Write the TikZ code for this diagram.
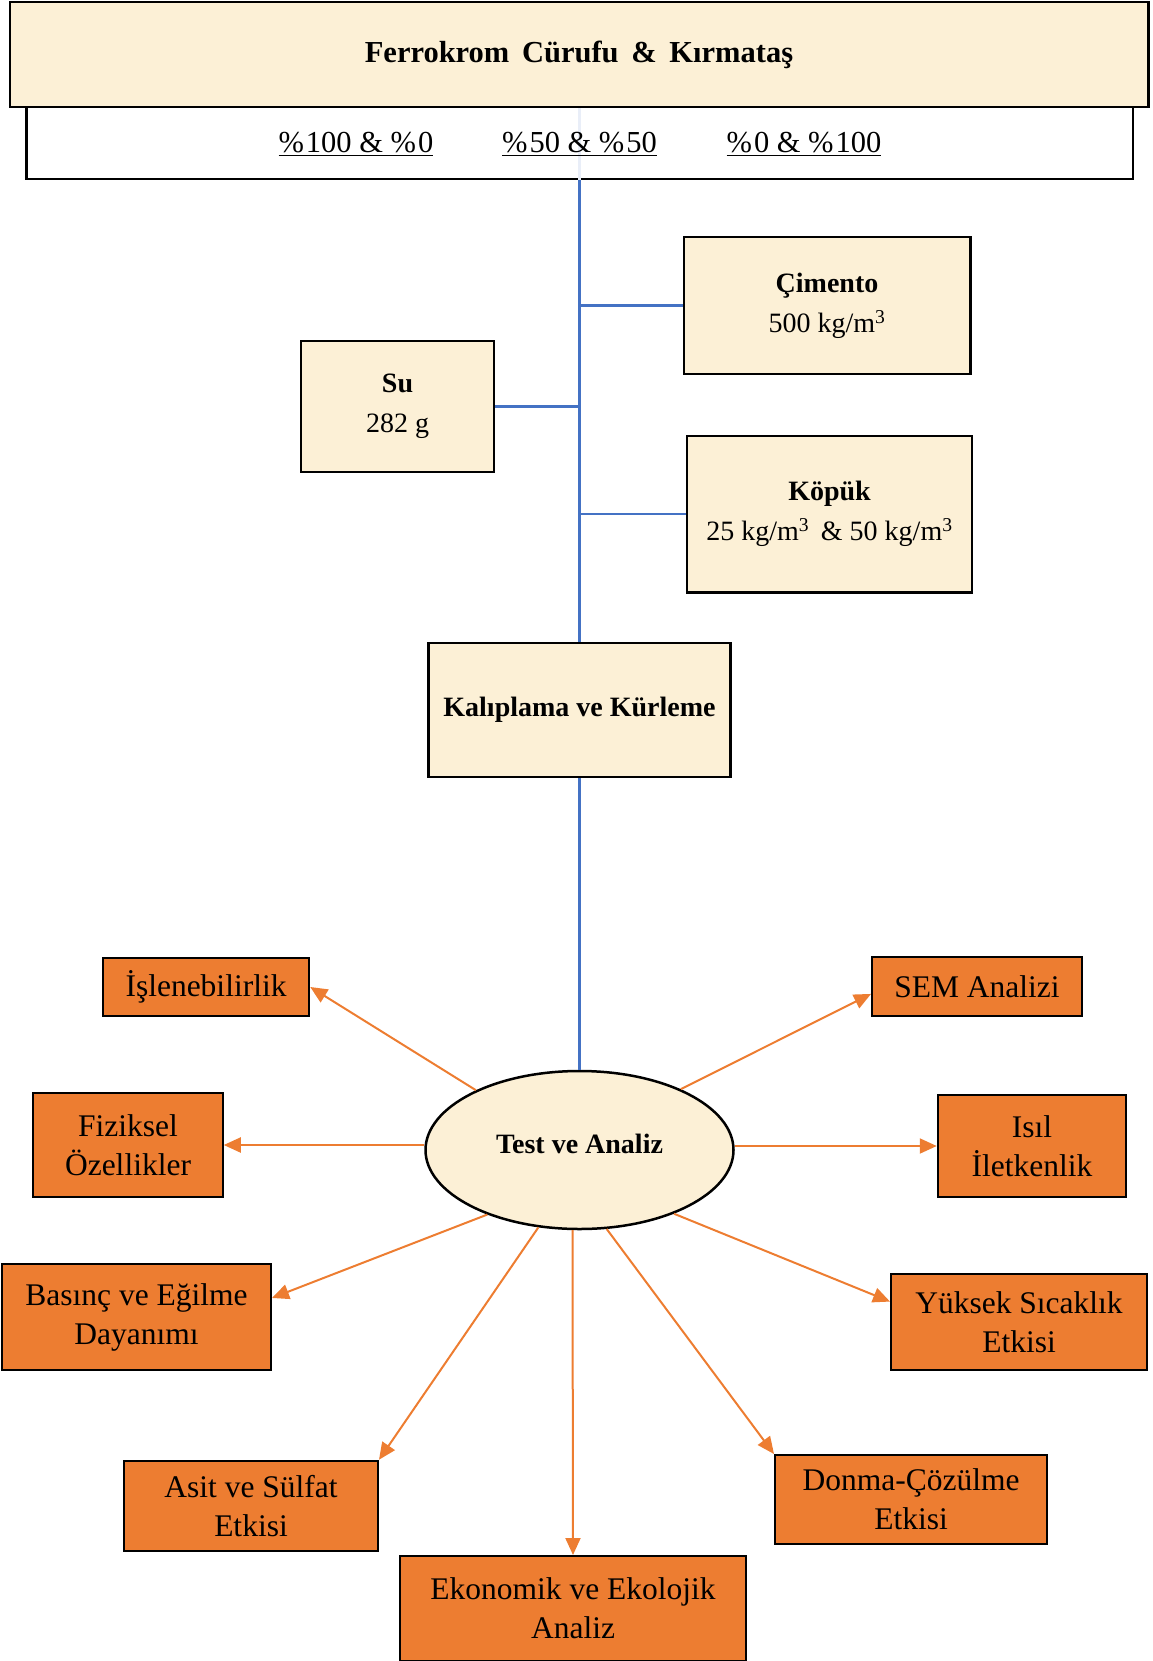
\documentclass[tikz,border=0pt]{standalone}
\usepackage{fontspec}
\setmainfont{Liberation Serif}
\usetikzlibrary{shapes.geometric,arrows.meta}
\definecolor{cream}{RGB}{252,240,214}
\definecolor{orng}{RGB}{237,125,49}
\definecolor{lineblue}{RGB}{68,114,196}
\begin{document}
\begin{tikzpicture}[x=1pt,y=-1pt,
    basebox/.style={draw,line width=2.5pt,fill=cream,align=center,inner sep=0pt,
      font=\fontsize{28}{40}\selectfont},
    testbox/.style={draw,line width=2pt,fill=orng,align=center,inner sep=0pt,
      font=\fontsize{31.5}{39}\selectfont},
    pcttext/.style={font=\fontsize{30.5}{36}\selectfont},
    trunk/.style={draw=lineblue,line width=2.5pt},
    outarrow/.style={draw=orng,line width=2pt,-{Triangle[length=17pt,width=15pt]}}]
  \useasboundingbox (0,0) rectangle (1152,1661);

  % Materials at the top
  \node[basebox,minimum width=1138.5pt,minimum height=105pt,font=\fontsize{30.5}{36}\bfseries]
    (top) at (579,54.5) {Ferrokrom\, Cürufu\, \&\, Kırmataş};
  \node[draw,line width=2.5pt,fill=white,minimum width=1106.5pt,minimum height=72pt]
    (pct) at (579.5,143) {};
  \draw[lineblue!12,line width=2.5pt] (top.south -| pct.south) -- (pct.south);
  \node[pcttext] (pa) at (356,144) {\underline{\%\kern2pt100 \& \%\kern2pt0}};
  \node[pcttext] (pb) at (579.5,144) {\underline{\%\kern2pt50 \& \%\kern2pt50}};
  \node[pcttext] (pc) at (804,144) {\underline{\%\kern2pt0 \& \%\kern2pt100}};

  % Mix components
  \node[basebox,minimum width=286.5pt,minimum height=137pt] (cim) at (827,305.5)
    {\textbf{Çimento}\\500 kg/m\textsuperscript{3}};
  \node[basebox,minimum width=193pt,minimum height=131pt] (su) at (397.5,406.5)
    {\textbf{Su}\\282 g};
  \node[basebox,minimum width=285pt,minimum height=156.5pt] (kop) at (829.5,514)
    {\textbf{Köpük}\\25 kg/m\textsuperscript{3}\, \& 50 kg/m\textsuperscript{3}};
  \node[basebox,minimum width=302pt,minimum height=134pt,font=\fontsize{28}{34}\bfseries]
    (kal) at (579.5,710) {Kalıplama ve Kürleme};

  % Blue trunk and branches
  \draw[trunk] (pct.south) -- (kal.north);
  \draw[trunk] (cim.west) -- (cim.west -| kal.north);
  \draw[trunk] (su.east) -- (su.east -| kal.north);
  \draw[trunk] (kop.west) -- (kop.west -| kal.north);

  % Tests
  \node[ellipse,draw,line width=2.5pt,fill=cream,minimum width=308pt,minimum height=158pt,
    inner sep=0pt,font=\fontsize{28}{34}\bfseries] (test) at (579.5,1150) {};
  \node[font=\fontsize{28}{34}\bfseries] (testlbl) at (579.5,1144) {Test ve Analiz};
  \draw[trunk] (kal.south) -- (test.north);

  \node[testbox,minimum width=206.5pt,minimum height=58pt] (isle) at (206,987) {İşlenebilirlik};
  \node[testbox,minimum width=210pt,minimum height=59pt] (sem) at (977,986.5) {SEM Analizi};
  \node[testbox,minimum width=189.5pt,minimum height=104.5pt] (fiz) at (128,1145) {Fiziksel\\Özellikler};
  \node[testbox,minimum width=188.5pt,minimum height=102.5pt] (isil) at (1032,1146) {Isıl\\İletkenlik};
  \node[testbox,minimum width=269pt,minimum height=106pt] (bas) at (136.5,1317) {Basınç ve Eğilme\\Dayanımı};
  \node[testbox,minimum width=256pt,minimum height=96pt] (yuk) at (1019,1322) {Yüksek Sıcaklık\\Etkisi};
  \node[testbox,minimum width=254pt,minimum height=90.5pt] (asit) at (251,1506) {Asit ve Sülfat\\Etkisi};
  \node[testbox,minimum width=272pt,minimum height=89pt] (donma) at (911,1499.5) {Donma-Çözülme\\Etkisi};
  \node[testbox,minimum width=345.5pt,minimum height=105pt] (eko) at (573,1608.5) {Ekonomik ve Ekolojik\\Analiz};

  % Arrows out of the ellipse
  \draw[outarrow] (test.150) -- (isle.east);
  \draw[outarrow] (test.31) -- (sem.184);
  \draw[outarrow] (test.west |- fiz.east) -- (fiz.east);
  \draw[outarrow] (test.east |- isil.west) -- (isil.west);
  \draw[outarrow] (test.215) -- (bas.8);
  \draw[outarrow] (test.326) -- (yuk.171);
  \draw[outarrow] (test.242) -- (asit.north east);
  \draw[outarrow] (test.265) -- (eko.north);
  \draw[outarrow] (test.289) -- (donma.north west);
\end{tikzpicture}
\end{document}
